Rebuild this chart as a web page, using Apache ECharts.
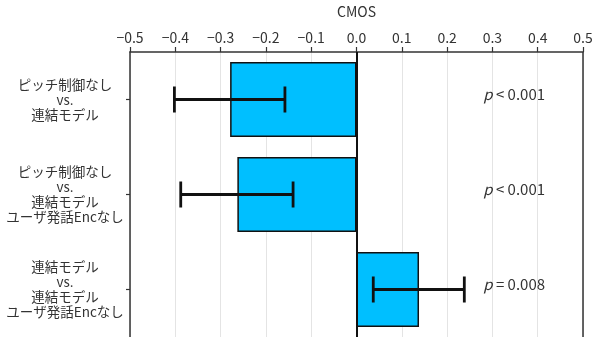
<!DOCTYPE html>
<html>
<head>
<meta charset="utf-8">
<script src="https://cdn.jsdelivr.net/npm/echarts@6/dist/echarts.min.js"></script>
<style>
html,body{margin:0;padding:0;background:#fff;}
#chart{width:601px;height:337px;}
</style>
</head>
<body>
<div id="chart"></div>
<script>
// ---- data ----
var categories = [
  'ピッチ制御なし\nvs.\n連結モデル',
  'ピッチ制御なし\nvs.\n連結モデル\nユーザ発話Encなし',
  '連結モデル\nvs.\n連結モデル\nユーザ発話Encなし'
];
var cmosValues = [-0.279, -0.263, 0.138];
var errLow = [-0.402, -0.388, 0.037];
var errHigh = [-0.158, -0.140, 0.238];
var pLabels = ['< 0.001', '< 0.001', '= 0.008'];
var xTicks = [-0.5, -0.4, -0.3, -0.2, -0.1, 0.0, 0.1, 0.2, 0.3, 0.4, 0.5];

var FONT = '"Noto Sans CJK JP", "Noto Sans", sans-serif';
var chart = echarts.init(document.getElementById('chart'), null, {renderer: 'canvas'});

var errData = categories.map(function (c, i) { return [i, errLow[i], errHigh[i]]; });
var pData = categories.map(function (c, i) { return [i, pLabels[i]]; });

var option = {
  animation: false,
  backgroundColor: '#fff',
  textStyle: {fontFamily: FONT},
  grid: {left: 130, right: 18, top: 49, bottom: 0, containLabel: false},
  xAxis: {
    type: 'value',
    position: 'top',
    min: xTicks[0], max: xTicks[xTicks.length - 1], interval: 0.1,
    name: 'CMOS',
    nameLocation: 'middle',
    nameGap: 33,
    nameTextStyle: {fontSize: 14, color: '#333', fontFamily: FONT},
    axisLine: {show: true, onZero: false, lineStyle: {color: '#333', width: 1.5}},
    axisTick: {show: true, inside: false, length: 5, lineStyle: {color: '#333', width: 1.2}},
    axisLabel: {
      fontSize: 14, color: '#333', margin: 7, fontFamily: FONT,
      formatter: function (v) {
        var s = (Math.round(v * 10) / 10).toFixed(1);
        if (s === '-0.0') s = '0.0';
        return s.replace('-', '\u2212');
      }
    },
    splitLine: {show: true, lineStyle: {color: '#e4e4e4', width: 1}}
  },
  yAxis: {
    type: 'category',
    data: categories,
    inverse: true,
    axisLine: {show: true, onZero: false, lineStyle: {color: '#333', width: 1.5}},
    axisTick: {show: true, alignWithLabel: true, length: 4, lineStyle: {color: '#333', width: 1.2}},
    axisLabel: {
      fontSize: 13.5, color: '#333', lineHeight: 15, align: 'center', margin: 65,
      fontFamily: FONT
    },
    splitLine: {show: false}
  },
  series: [
    {
      type: 'bar',
      data: cmosValues,
      barWidth: '79%',
      itemStyle: {color: '#00BFFF', borderColor: '#111', borderWidth: 1.5},
      markLine: {
        silent: true, symbol: 'none', label: {show: false},
        data: [
          {xAxis: 0, lineStyle: {color: '#111', width: 2, type: 'solid'}},
          {xAxis: 0.5, lineStyle: {color: '#333', width: 1.5, type: 'solid'}}
        ]
      },
      z: 2
    },
    {
      type: 'custom',
      data: errData,
      z: 5,
      renderItem: function (params, api) {
        var i = api.value(0);
        var p1 = api.coord([api.value(1), i]);
        var p2 = api.coord([api.value(2), i]);
        var h = 13;
        var st = {stroke: '#111', lineWidth: 2.8};
        return {
          type: 'group',
          children: [
            {type: 'line', shape: {x1: p1[0], y1: p1[1], x2: p2[0], y2: p2[1]}, style: st},
            {type: 'line', shape: {x1: p1[0], y1: p1[1] - h, x2: p1[0], y2: p1[1] + h}, style: st},
            {type: 'line', shape: {x1: p2[0], y1: p2[1] - h, x2: p2[0], y2: p2[1] + h}, style: st}
          ]
        };
      },
      encode: {x: [1, 2], y: 0}
    },
    {
      type: 'custom',
      data: pData,
      z: 6,
      renderItem: function (params, api) {
        var i = api.value(0);
        var pt = api.coord([0.348, i]);
        return {
          type: 'text',
          x: pt[0], y: pt[1] - 5,
          style: {
            text: '{p|p} {t|' + pLabels[i] + '}',
            align: 'center', verticalAlign: 'middle',
            rich: {
              p: {fontSize: 15, fontStyle: 'italic', fill: '#333', fontFamily: FONT},
              t: {fontSize: 15, fill: '#333', fontFamily: FONT}
            }
          }
        };
      },
      encode: {y: 0}
    }
  ]
};
chart.setOption(option);
</script>
</body>
</html>
